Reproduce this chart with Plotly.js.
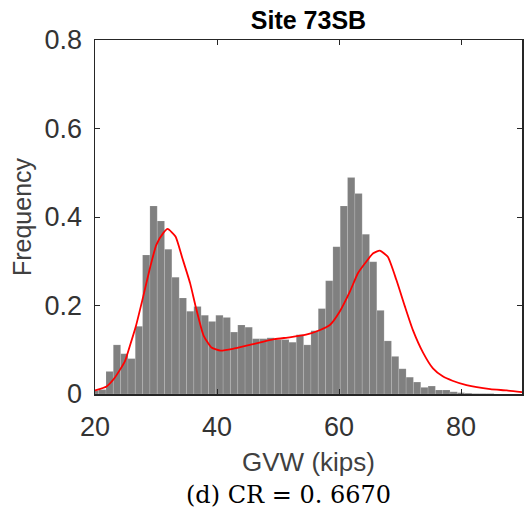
<!DOCTYPE html>
<html>
<head>
<meta charset="utf-8">
<script src="https://cdn.plot.ly/plotly-3.0.1.min.js"></script>
<style>html,body{margin:0;padding:0;background:#fff;}#chart{width:527px;height:518px;}</style>
</head>
<body>
<div id="chart"></div>
<script>
// Histogram bin centers (kips) and frequencies
const binCenters = [20.0, 21.2, 22.4, 23.6, 24.8, 26.0, 27.2, 28.4, 29.6, 30.8, 32.0, 33.2, 34.4, 35.6, 36.8, 38.0, 39.2, 40.4, 41.6, 42.8, 44.0, 45.2, 46.4, 47.6, 48.8, 50.0, 51.2, 52.4, 53.6, 54.8, 56.0, 57.2, 58.4, 59.6, 60.8, 62.0, 63.2, 64.4, 65.6, 66.8, 68.0, 69.2, 70.4, 71.6, 72.8, 74.0, 75.2, 76.4, 77.6, 78.8, 80.0, 81.2, 82.4, 83.6, 84.8];
const binFreq = [0.008, 0.010, 0.051, 0.111, 0.091, 0.080, 0.153, 0.314, 0.425, 0.391, 0.327, 0.264, 0.217, 0.187, 0.198, 0.178, 0.164, 0.178, 0.173, 0.140, 0.156, 0.151, 0.125, 0.125, 0.127, 0.123, 0.123, 0.117, 0.134, 0.111, 0.143, 0.193, 0.256, 0.333, 0.425, 0.489, 0.453, 0.361, 0.299, 0.189, 0.120, 0.085, 0.057, 0.038, 0.027, 0.015, 0.018, 0.009, 0.009, 0.005, 0.003, 0.002, 0.001, 0.001, 0.001];

// Fitted density curve
const curveX = [20, 21.9, 23.2, 24.9, 25.7, 26.7, 27.9, 29.0, 30.05, 31.15, 31.9, 33.2, 34.3, 35.6, 36.5, 37.8, 39.1, 40.6, 42.6, 45.4, 49.4, 51.9, 54.6, 56.8, 58.5, 60.1, 61.8, 63.1, 64.3, 65.6, 66.7, 68.0, 69.4, 70.8, 72.1, 73.8, 75.4, 77.0, 78.6, 80.9, 84.8, 87.5, 90];
const curveY = [0.008, 0.017, 0.036, 0.074, 0.108, 0.153, 0.220, 0.284, 0.337, 0.363, 0.373, 0.356, 0.308, 0.250, 0.198, 0.132, 0.105, 0.098, 0.102, 0.111, 0.124, 0.128, 0.134, 0.144, 0.156, 0.186, 0.232, 0.273, 0.296, 0.318, 0.324, 0.310, 0.258, 0.198, 0.145, 0.093, 0.058, 0.040, 0.030, 0.020, 0.011, 0.008, 0.004];

const xTicks = [20, 40, 60, 80];
const yTicks = [0, 0.2, 0.4, 0.6, 0.8];
const yTickLabels = ['0', '0.2', '0.4', '0.6', '0.8'];

const axisColor = '#262626';
const sansFont = 'Liberation Sans, Arial, Helvetica, sans-serif';

const traces = [
  {
    type: 'bar',
    x: binCenters,
    y: binFreq,
    marker: {color: 'rgb(128,128,128)', line: {color: 'rgba(255,255,255,0.25)', width: 0.5}},
    hoverinfo: 'skip'
  },
  {
    type: 'scatter',
    mode: 'lines',
    x: curveX,
    y: curveY,
    line: {color: '#ff0000', width: 1.8, shape: 'spline', smoothing: 0.5},
    hoverinfo: 'skip'
  }
];

const layout = {
  width: 527,
  height: 518,
  margin: {l: 95, r: 5, t: 40, b: 124},
  paper_bgcolor: '#ffffff',
  plot_bgcolor: '#ffffff',
  showlegend: false,
  bargap: 0,
  title: {
    text: '<b>Site 73SB</b>',
    font: {family: sansFont, size: 25, color: '#000000'},
    x: 0.5, xref: 'paper', xanchor: 'center',
    y: 23, yref: 'container', yanchor: 'middle'
  },
  xaxis: {
    range: [20, 90],
    tickmode: 'array',
    tickvals: xTicks,
    ticktext: xTicks.map(String),
    ticks: 'inside',
    ticklen: 5,
    tickwidth: 1,
    tickcolor: axisColor,
    showline: true,
    linecolor: axisColor,
    linewidth: 1.5,
    mirror: 'ticks',
    showgrid: false,
    zeroline: false,
    ticklabelstandoff: 8,
    tickfont: {family: sansFont, size: 27, color: '#333333'},
    title: {text: 'GVW (kips)', font: {family: sansFont, size: 26, color: '#404040'}, standoff: 12}
  },
  yaxis: {
    range: [0, 0.8],
    tickmode: 'array',
    tickvals: yTicks,
    ticktext: yTickLabels,
    ticks: 'inside',
    ticklen: 5,
    tickwidth: 1,
    tickcolor: axisColor,
    showline: true,
    linecolor: axisColor,
    linewidth: 1.5,
    mirror: 'ticks',
    showgrid: false,
    zeroline: false,
    ticklabelstandoff: 6,
    tickfont: {family: sansFont, size: 27, color: '#333333'},
    title: {text: 'Frequency', font: {family: sansFont, size: 25, color: '#404040'}, standoff: 6}
  },
  annotations: [
    {
      text: '(d) CR = 0. 6670',
      xref: 'paper', yref: 'paper',
      x: 0.454, y: -0.285,
      xanchor: 'center', yanchor: 'middle',
      showarrow: false,
      font: {family: 'DejaVu Serif, Liberation Serif, serif', size: 24, color: '#000000'}
    }
  ]
};

Plotly.newPlot('chart', traces, layout, {displayModeBar: false, staticPlot: true});
</script>
</body>
</html>
